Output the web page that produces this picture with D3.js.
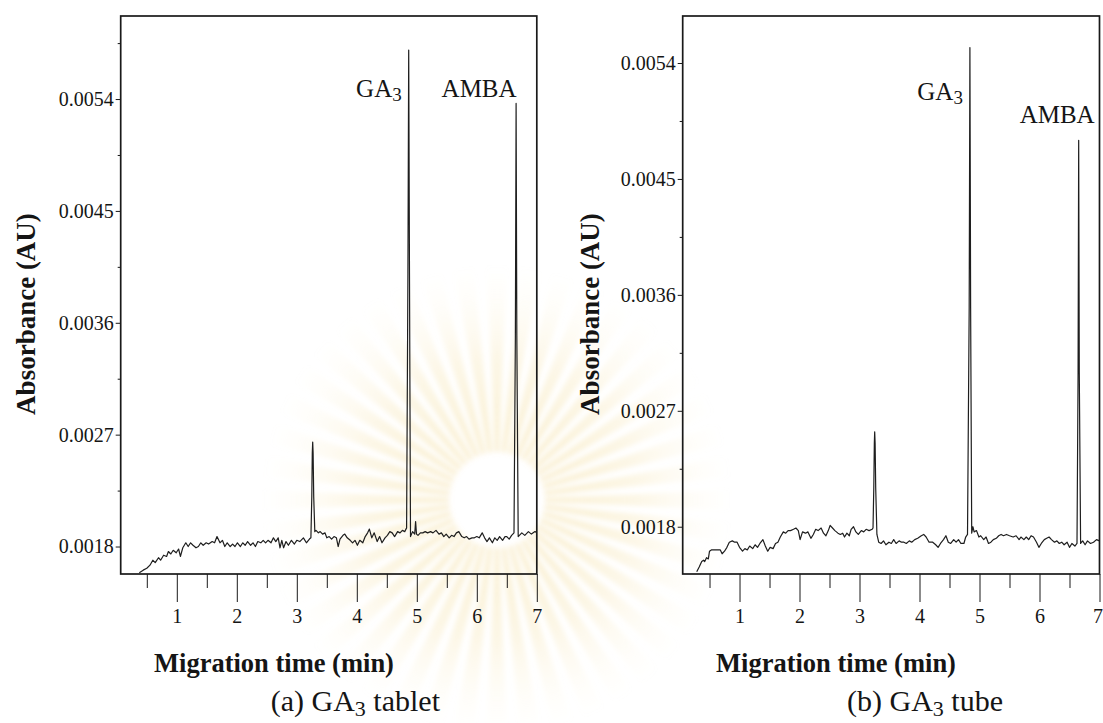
<!DOCTYPE html>
<html>
<head>
<meta charset="utf-8">
<script src="https://cdn.jsdelivr.net/npm/d3@7"></script>
<style>
  html, body { margin: 0; padding: 0; background: #ffffff; }
  svg { display: block; }
  text { font-family: "Liberation Serif", "Times New Roman", Times, serif; fill: #151515; }
</style>
</head>
<body>
<svg id="chart" width="1103" height="723"></svg>
<script>
// Capillary electrophoresis traces: [migration time (min), absorbance (AU)]
const tabletTrace = [
  [0.375,0.00159],[0.44,0.00161],[0.50,0.001625],[0.553,0.00165],[0.60,0.00169],[0.64,0.00167],
  [0.695,0.00171],[0.73,0.00169],[0.78,0.00173],[0.83,0.00172],[0.86,0.00176],[0.90,0.00174],
  [0.94,0.00177],[0.99,0.00175],[1.03,0.00178],[1.06,0.00172],[1.10,0.00179],[1.15,0.00183],
  [1.19,0.00180],[1.23,0.00183],[1.27,0.00181],[1.32,0.00179],[1.36,0.00180],[1.40,0.00183],
  [1.44,0.00181],[1.49,0.00183],[1.53,0.00182],[1.59,0.00184],[1.63,0.00183],[1.67,0.00188],
  [1.72,0.00183],[1.76,0.00185],[1.80,0.00180],[1.84,0.00183],[1.89,0.00180],[1.93,0.00182],
  [1.97,0.00180],[2.01,0.00183],[2.06,0.00180],[2.10,0.00183],[2.14,0.00181],[2.18,0.00184],
  [2.23,0.00181],[2.27,0.00183],[2.31,0.00180],[2.35,0.00184],[2.40,0.00183],[2.44,0.00185],
  [2.48,0.00183],[2.52,0.00185],[2.57,0.00183],[2.61,0.00187],[2.65,0.00184],[2.69,0.00187],
  [2.72,0.00179],[2.75,0.00185],[2.78,0.00179],[2.82,0.00184],[2.86,0.00181],[2.91,0.00185],
  [2.96,0.00182],[3.00,0.00185],[3.05,0.00184],[3.11,0.00187],[3.16,0.00183],[3.21,0.00186],
  [3.235,0.00187],[3.25,0.00220],[3.258,0.00255],[3.265,0.002641],[3.272,0.00255],[3.282,0.00220],
  [3.30,0.00192],[3.32,0.00193],[3.36,0.00191],[3.39,0.00192],[3.43,0.00190],[3.47,0.00191],
  [3.50,0.00187],[3.54,0.00188],[3.58,0.00186],[3.62,0.00188],[3.66,0.00187],[3.69,0.00180],
  [3.72,0.00186],[3.77,0.00189],[3.80,0.00190],[3.84,0.00187],[3.89,0.00185],[3.93,0.00183],
  [3.97,0.00185],[4.01,0.00181],[4.05,0.00185],[4.10,0.00183],[4.14,0.00188],[4.18,0.00191],
  [4.21,0.00194],[4.25,0.00187],[4.29,0.00191],[4.34,0.00184],[4.38,0.00188],[4.42,0.00183],
  [4.47,0.00187],[4.51,0.00189],[4.55,0.00192],[4.59,0.00191],[4.63,0.00188],[4.68,0.00192],
  [4.72,0.00191],[4.76,0.00193],[4.80,0.00192],[4.83,0.00195],[4.852,0.00400],[4.865,0.005794],
  [4.878,0.00400],[4.895,0.00188],[4.93,0.00192],[4.965,0.00190],[4.98,0.00200],[4.995,0.00190],
  [5.02,0.00189],[5.06,0.00191],[5.10,0.00191],[5.14,0.00192],[5.18,0.00191],[5.23,0.00192],
  [5.27,0.00191],[5.32,0.00193],[5.37,0.00190],[5.41,0.00191],[5.45,0.00188],[5.49,0.00190],
  [5.54,0.00187],[5.58,0.00189],[5.62,0.00188],[5.66,0.00191],[5.70,0.00192],[5.75,0.00188],
  [5.79,0.00187],[5.83,0.00188],[5.87,0.00186],[5.92,0.00187],[5.96,0.00187],[6.00,0.00188],
  [6.04,0.00187],[6.09,0.00191],[6.13,0.00187],[6.17,0.00184],[6.21,0.00187],[6.26,0.00183],
  [6.30,0.00187],[6.34,0.00185],[6.38,0.00188],[6.43,0.00185],[6.47,0.00188],[6.50,0.00188],
  [6.54,0.00186],[6.58,0.00189],[6.62,0.00191],[6.643,0.00350],[6.655,0.005365],[6.667,0.00350],
  [6.69,0.00188],[6.75,0.00191],[6.80,0.00189],[6.86,0.00192],[6.91,0.00190],[6.97,0.00192],
  [7.00,0.00191]
];

const tubeTrace = [
  [0.287,0.001451],[0.33,0.00149],[0.37,0.00153],[0.40,0.00154],[0.42,0.00153],[0.45,0.00156],
  [0.48,0.00155],[0.50,0.00161],[0.53,0.00162],[0.59,0.00162],[0.64,0.00162],[0.68,0.00162],
  [0.71,0.00159],[0.75,0.00161],[0.79,0.00164],[0.83,0.00168],[0.88,0.00169],[0.92,0.00168],
  [0.96,0.00168],[1.00,0.00164],[1.05,0.00161],[1.09,0.00163],[1.13,0.00162],[1.17,0.00165],
  [1.22,0.00163],[1.26,0.00166],[1.30,0.00164],[1.34,0.00167],[1.39,0.00170],[1.43,0.00165],
  [1.47,0.00161],[1.51,0.00164],[1.56,0.00163],[1.60,0.00167],[1.64,0.00168],[1.68,0.00172],
  [1.73,0.00176],[1.77,0.00175],[1.81,0.00177],[1.85,0.00177],[1.90,0.00178],[1.94,0.00179],
  [1.98,0.00177],[2.01,0.00170],[2.05,0.00176],[2.10,0.00175],[2.14,0.00176],[2.19,0.00171],
  [2.23,0.00174],[2.27,0.00178],[2.31,0.00177],[2.36,0.00179],[2.40,0.00175],[2.44,0.00173],
  [2.48,0.00177],[2.51,0.00181],[2.55,0.00179],[2.59,0.00177],[2.64,0.00175],[2.68,0.00174],
  [2.72,0.00175],[2.75,0.00172],[2.79,0.00175],[2.83,0.00173],[2.86,0.00178],[2.90,0.00180],
  [2.94,0.00176],[2.98,0.00174],[3.03,0.00177],[3.07,0.00176],[3.11,0.00178],[3.16,0.00177],
  [3.21,0.00178],[3.225,0.00179],[3.238,0.00210],[3.247,0.00245],[3.253,0.002537],[3.260,0.00245],
  [3.270,0.00210],[3.29,0.00174],[3.32,0.00168],[3.36,0.00167],[3.40,0.00169],[3.44,0.00166],
  [3.49,0.00168],[3.53,0.00167],[3.57,0.00170],[3.61,0.00167],[3.66,0.00169],[3.70,0.00168],
  [3.74,0.00168],[3.78,0.00167],[3.83,0.00169],[3.87,0.00168],[3.92,0.00170],[3.97,0.00171],
  [4.03,0.00173],[4.07,0.00174],[4.11,0.00172],[4.16,0.00168],[4.22,0.00168],[4.27,0.00166],
  [4.31,0.00164],[4.35,0.00167],[4.40,0.00170],[4.44,0.00173],[4.48,0.00168],[4.52,0.00167],
  [4.57,0.00170],[4.61,0.00168],[4.65,0.00170],[4.69,0.00167],[4.74,0.00167],[4.77,0.00172],
  [4.80,0.00174],[4.828,0.00350],[4.840,0.00552],[4.852,0.00350],[4.87,0.00175],[4.89,0.00180],
  [4.91,0.00176],[4.95,0.00177],[4.99,0.00172],[5.02,0.00173],[5.07,0.00170],[5.11,0.00172],
  [5.15,0.00167],[5.19,0.00168],[5.23,0.00170],[5.28,0.00171],[5.32,0.00173],[5.36,0.00174],
  [5.40,0.00173],[5.45,0.00174],[5.50,0.00173],[5.56,0.00172],[5.61,0.00173],[5.66,0.00170],
  [5.69,0.00172],[5.74,0.00170],[5.78,0.00172],[5.82,0.00170],[5.86,0.00173],[5.90,0.00172],
  [5.95,0.00168],[5.99,0.00164],[6.03,0.00167],[6.08,0.00170],[6.12,0.00171],[6.16,0.00172],
  [6.20,0.00170],[6.25,0.00168],[6.29,0.00169],[6.33,0.00167],[6.37,0.00168],[6.41,0.00166],
  [6.46,0.00168],[6.50,0.00164],[6.54,0.00167],[6.59,0.00165],[6.625,0.00167],[6.643,0.00300],
  [6.653,0.00480],[6.663,0.00300],[6.685,0.00167],[6.72,0.00169],[6.76,0.00166],[6.80,0.00169],
  [6.85,0.00167],[6.90,0.00168],[6.95,0.00170],[7.00,0.00169]
];

// Axis ticks
const yMajorTicks = [0.0018, 0.0027, 0.0036, 0.0045, 0.0054];
const yMinorTicks = [0.00225, 0.00315, 0.00405, 0.00495, 0.00585];
const xMajorTicks = [1, 2, 3, 4, 5, 6, 7];
const xMinorTicks = [0.5, 1.5, 2.5, 3.5, 4.5, 5.5, 6.5];

// Peak identities and their migration times
const tabletPeaks = [{ name: "GA", sub: "3", time: 4.865 }, { name: "AMBA", sub: "", time: 6.655 }];
const tubePeaks   = [{ name: "GA", sub: "3", time: 4.840 }, { name: "AMBA", sub: "", time: 6.653 }];

// Texts
const xTitle = "Migration time (min)";
const yTitle = "Absorbance (AU)";
const captions = [["(a) GA", "3", " tablet"], ["(b) GA", "3", " tube"]];

const svg = d3.select("#chart");
const ink = "#191919";

// ---- faint, soft sunburst seal in the background ----
const sealX = 497, sealY = 500;
const defs = svg.append("defs");
const grad = defs.append("radialGradient")
  .attr("id", "rayFade").attr("gradientUnits", "userSpaceOnUse")
  .attr("cx", 0).attr("cy", 0).attr("r", 235);
grad.append("stop").attr("offset", "0.2").attr("stop-color", "#f0cf78").attr("stop-opacity", 0.34);
grad.append("stop").attr("offset", "0.6").attr("stop-color", "#f3d990").attr("stop-opacity", 0.22);
grad.append("stop").attr("offset", "1").attr("stop-color", "#f8ecc8").attr("stop-opacity", 0);
defs.append("filter").attr("id", "soft")
  .attr("x", "-20%").attr("y", "-20%").attr("width", "140%").attr("height", "140%")
  .append("feGaussianBlur").attr("stdDeviation", 2.5);

const rayCount = 44;
const rayArc = d3.arc().innerRadius(48).outerRadius(235);
const seal = svg.append("g")
  .attr("transform", `translate(${sealX},${sealY})`)
  .attr("filter", "url(#soft)");
seal.selectAll("path")
  .data(d3.range(rayCount))
  .join("path")
  .attr("d", i => {
    const a = (i / rayCount) * 2 * Math.PI;
    const half = (2 * Math.PI / rayCount) * 0.3;
    return rayArc({ startAngle: a - half, endAngle: a + half });
  })
  .attr("fill", "url(#rayFade)");

// ---- panels ----
const panels = [
  { trace: tabletTrace, peaks: tabletPeaks, caption: captions[0],
    left: 120.7, right: 536.8, xDomain: [0.065, 7.0], yDomain: [0.001579, 0.006068],
    yTitleX: 35, xTitleX: 274, captionEnd: 440,
    labelPos: [{ dx: -7, y: 97 }, { dx: 0.5, y: 97 }] },
  { trace: tubeTrace, peaks: tubePeaks, caption: captions[1],
    left: 682.7, right: 1099.5, xDomain: [0.053, 7.0], yDomain: [0.001433, 0.005765],
    yTitleX: 599, xTitleX: 836, captionEnd: 1003,
    labelPos: [{ dx: -7, y: 100 }, { dx: 16, y: 123 }] }
];
const plotTop = 16, plotBottom = 574;

panels.forEach(p => {
  const x = d3.scaleLinear().domain(p.xDomain).range([p.left, p.right]);
  const y = d3.scaleLinear().domain(p.yDomain).range([plotBottom, plotTop]);
  const g = svg.append("g");

  // y axis: major and minor ticks
  const yMajor = g.append("g").attr("transform", `translate(${p.left},0)`)
    .call(d3.axisLeft(y).tickValues(yMajorTicks).tickSize(5).tickPadding(2)
      .tickFormat(d3.format(".4f")));
  const yMinor = g.append("g").attr("transform", `translate(${p.left},0)`)
    .call(d3.axisLeft(y).tickValues(yMinorTicks.filter(v => v <= p.yDomain[1]))
      .tickSize(3).tickFormat(""));

  // x axis: long major ticks hanging below the frame, shorter minor ticks
  const xMajor = g.append("g").attr("transform", `translate(0,${plotBottom})`)
    .call(d3.axisBottom(x).tickValues(xMajorTicks).tickSize(28).tickPadding(7)
      .tickFormat(d3.format("d")));
  const xMinor = g.append("g").attr("transform", `translate(0,${plotBottom})`)
    .call(d3.axisBottom(x).tickValues(xMinorTicks).tickSize(14).tickFormat(""));

  [yMajor, yMinor, xMajor, xMinor].forEach(a => {
    a.select(".domain").remove();
    a.selectAll("line").attr("stroke", ink).attr("stroke-width", 1);
    a.selectAll("text").attr("font-size", "20px").attr("fill", ink)
      .style("font-family", '"Liberation Serif", "Times New Roman", serif');
  });
  // keep the last x label inside the page
  xMajor.selectAll("text").filter(d => x(d) + 6 > 1103).attr("text-anchor", "end").attr("x", 1103 - x(7) - 0.5);

  // trace
  const line = d3.line().x(d => x(d[0])).y(d => y(d[1]));
  g.append("path").datum(p.trace)
    .attr("d", line).attr("fill", "none")
    .attr("stroke", "#1e1e1e").attr("stroke-width", 1.2).attr("stroke-linejoin", "round");

  // frame
  g.append("rect")
    .attr("x", p.left).attr("y", plotTop)
    .attr("width", p.right - p.left).attr("height", plotBottom - plotTop)
    .attr("fill", "none").attr("stroke", ink).attr("stroke-width", 1.7);

  // peak labels
  p.peaks.forEach((pk, i) => {
    const t = g.append("text")
      .attr("x", x(pk.time) + p.labelPos[i].dx).attr("y", p.labelPos[i].y)
      .attr("text-anchor", "end").attr("font-size", "25px");
    t.append("tspan").text(pk.name);
    if (pk.sub) t.append("tspan").attr("dy", 4).attr("font-size", "19px").text(pk.sub);
  });

  // axis titles
  g.append("text")
    .attr("transform", `translate(${p.yTitleX},314) rotate(-90)`)
    .attr("text-anchor", "middle").attr("font-size", "27px").attr("font-weight", "bold")
    .text(yTitle);
  g.append("text")
    .attr("x", p.xTitleX).attr("y", 672)
    .attr("text-anchor", "middle").attr("font-size", "26.5px").attr("font-weight", "bold")
    .text(xTitle);

  // caption
  const c = g.append("text")
    .attr("x", p.captionEnd).attr("y", 711)
    .attr("text-anchor", "end").attr("font-size", "30px");
  c.append("tspan").text(p.caption[0]);
  c.append("tspan").attr("dy", 5).attr("font-size", "22px").text(p.caption[1]);
  c.append("tspan").attr("dy", -5).text(p.caption[2]);
});
</script>
</body>
</html>
